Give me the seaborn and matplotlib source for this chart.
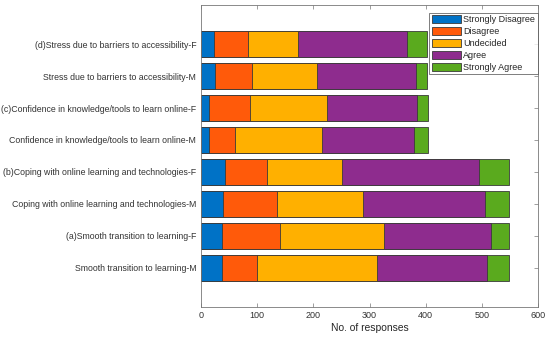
import numpy as np
import pandas as pd
import matplotlib
matplotlib.use("Agg")
import matplotlib.pyplot as plt
from matplotlib.patches import Patch
import seaborn as sns

# questions, top to bottom
items = ["(d)Stress due to barriers to accessibility-F",
         "Stress due to barriers to accessibility-M",
         "(c)Confidence in knowledge/tools to learn online-F",
         "Confidence in knowledge/tools to learn online-M",
         "(b)Coping with online learning and technologies-F",
         "Coping with online learning and technologies-M",
         "(a)Smooth transition to learning-F",
         "Smooth transition to learning-M"]

responses = ["Strongly Disagree", "Disagree", "Undecided", "Agree", "Strongly Agree"]

strongly_disagree = [23, 24, 14, 15, 42, 40, 38, 38]
disagree = [60, 66, 73, 45, 75, 96, 103, 61]
undecided = [89, 117, 137, 155, 134, 153, 184, 215]
agree = [195, 175, 161, 164, 244, 217, 192, 196]
strongly_agree = [35, 20, 19, 25, 53, 42, 32, 38]

colors = ["#0072C6", "#FF5A0A", "#FFB000", "#8E2C8E", "#5AAA1E"]

sns.set_style("white")
plt.rcParams["font.family"] = ["Liberation Sans", "DejaVu Sans"]

df = pd.DataFrame({"item": items,
                   "Strongly Disagree": strongly_disagree,
                   "Disagree": disagree,
                   "Undecided": undecided,
                   "Agree": agree,
                   "Strongly Agree": strongly_agree})

# cumulative totals so each bar can be drawn over the longer one
cum = df[responses].cumsum(axis=1)

fig = plt.figure(figsize=(5.5, 3.39), dpi=100)
ax = fig.add_axes([0.3655, 0.0944, 0.6127, 0.8909])

for resp, col in reversed(list(zip(responses, colors))):
    sns.barplot(x=cum[resp], y=df["item"], orient="h", color=col,
                edgecolor="#3a3a3a", linewidth=0.6, width=0.8,
                saturation=1, ax=ax)

ax.set_xlim(0, 600)
ax.set_xticks(range(0, 601, 100))
ax.set_ylim(7 + 1.22, -1.22)
ax.set_xlabel("No. of responses", fontsize=7.4, color="#262626", labelpad=2)
ax.set_ylabel("")
ax.tick_params(axis="y", labelsize=6.3, colors="#777777", labelcolor="#333333",
               direction="in", length=3, width=0.5, right=True, left=True)
ax.tick_params(axis="x", labelsize=6.5, colors="#777777", labelcolor="#333333",
               direction="in", length=3, width=0.5, top=True, bottom=True, pad=3)
for s in ax.spines.values():
    s.set_color("#777777")
    s.set_linewidth(0.6)

handles = [Patch(facecolor=c, edgecolor="#3a3a3a", linewidth=0.6, label=r)
           for r, c in zip(responses, colors)]
leg = ax.legend(handles=handles, loc="upper right", bbox_to_anchor=(1.0, 0.975),
                borderaxespad=0, fontsize=6.5, handlelength=3.2, handleheight=1.0,
                labelspacing=0.3, handletextpad=0.3, borderpad=0.3,
                frameon=True, fancybox=False, edgecolor="#444444")
leg.get_frame().set_linewidth(0.6)

fig.savefig("out.png", dpi=100)
